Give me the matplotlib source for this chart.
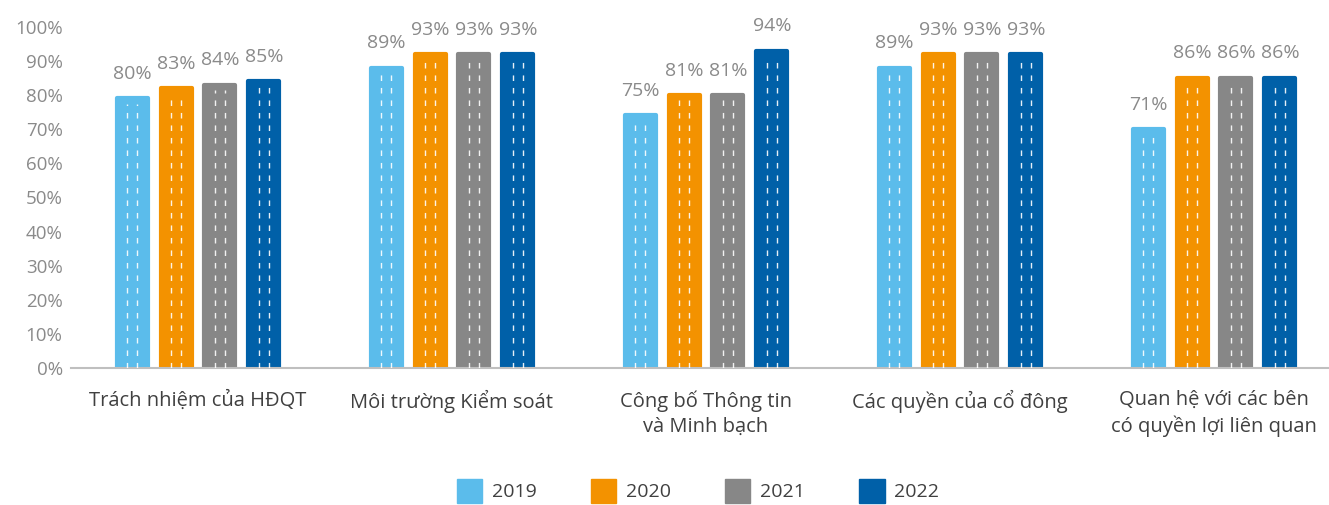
import numpy as np
import matplotlib as mpl, matplotlib.pyplot as plt
from matplotlib.patches import Patch
from matplotlib.ticker import FuncFormatter

TXT = "#8A8A8A"; BASE = "#BFBFBF"
COLORS = ["#5BBCEB", "#F39200", "#878787", "#0060A8"]
mpl.rcParams.update({"font.family": ["Open Sans", "DejaVu Sans"]})

categories = ["Trách nhiệm của HĐQT", "Môi trường Kiểm soát", "Công bố Thông tin\nvà Minh bạch",
              "Các quyền của cổ đông", "Quan hệ với các bên\ncó quyền lợi liên quan"]
years = ["2019", "2020", "2021", "2022"]
v2019 = [80, 89, 75, 89, 71]
v2020 = [83, 93, 81, 93, 86]
v2021 = [84, 93, 81, 93, 86]
v2022 = [85, 93, 94, 93, 86]
series = [v2019, v2020, v2021, v2022]

W, H = 1329, 505
fig = plt.figure(figsize=(W / 100, H / 100), dpi=100)
ax = fig.add_axes([71 / W, (H - 368) / H, (W - 71) / W, 341 / H])

x = np.arange(len(categories))
bw = 0.122; step = 0.173
for k, (vals, col) in enumerate(zip(series, COLORS)):
    xs = x + (k - 1.5) * step
    # bars drawn a touch short so the rounded outline ends at the value
    ax.bar(xs, np.array(vals) - 0.9, width=bw, color=col, edgecolor=col, lw=3,
           joinstyle="round", zorder=2)
    for xi, v in zip(xs, vals):
        for off in (-0.17, 0.17):
            ax.plot([xi + off * bw, xi + off * bw], [0, v - 2.5], color="white", lw=1,
                    alpha=0.9, ls=(0, (4, 5)), zorder=3)
        ax.text(xi, v + 3.6, f"{v}%", ha="center", va="bottom", fontsize=14, color=TXT)

ax.set_xlim(-0.5, (W - 198) / 254)
ax.set_ylim(0, 100)
ax.set_yticks(np.arange(0, 101, 10))
ax.yaxis.set_major_formatter(FuncFormatter(lambda v, _: f"{v:.0f}%"))
ax.set_xticks(x)
ax.set_xticklabels(categories, fontsize=14.5, color="#404040", linespacing=1.35)
for s in ["top", "right", "left"]:
    ax.spines[s].set_visible(False)
ax.spines["bottom"].set_color(BASE); ax.spines["bottom"].set_linewidth(1.5)
ax.tick_params(axis="both", length=0)
ax.tick_params(axis="x", pad=16)
ax.tick_params(axis="y", labelsize=13.5, labelcolor=TXT, pad=6)

handles = [Patch(facecolor=c, edgecolor=c) for c in COLORS]
fig.legend(handles, years, loc="center", bbox_to_anchor=(698 / W, 1 - 491 / H), ncol=4,
           frameon=False, fontsize=14, handlelength=1.3, handleheight=1.5,
           columnspacing=2.8, handletextpad=0.5, labelcolor="#404040")

fig.savefig("out.png", dpi=100)
